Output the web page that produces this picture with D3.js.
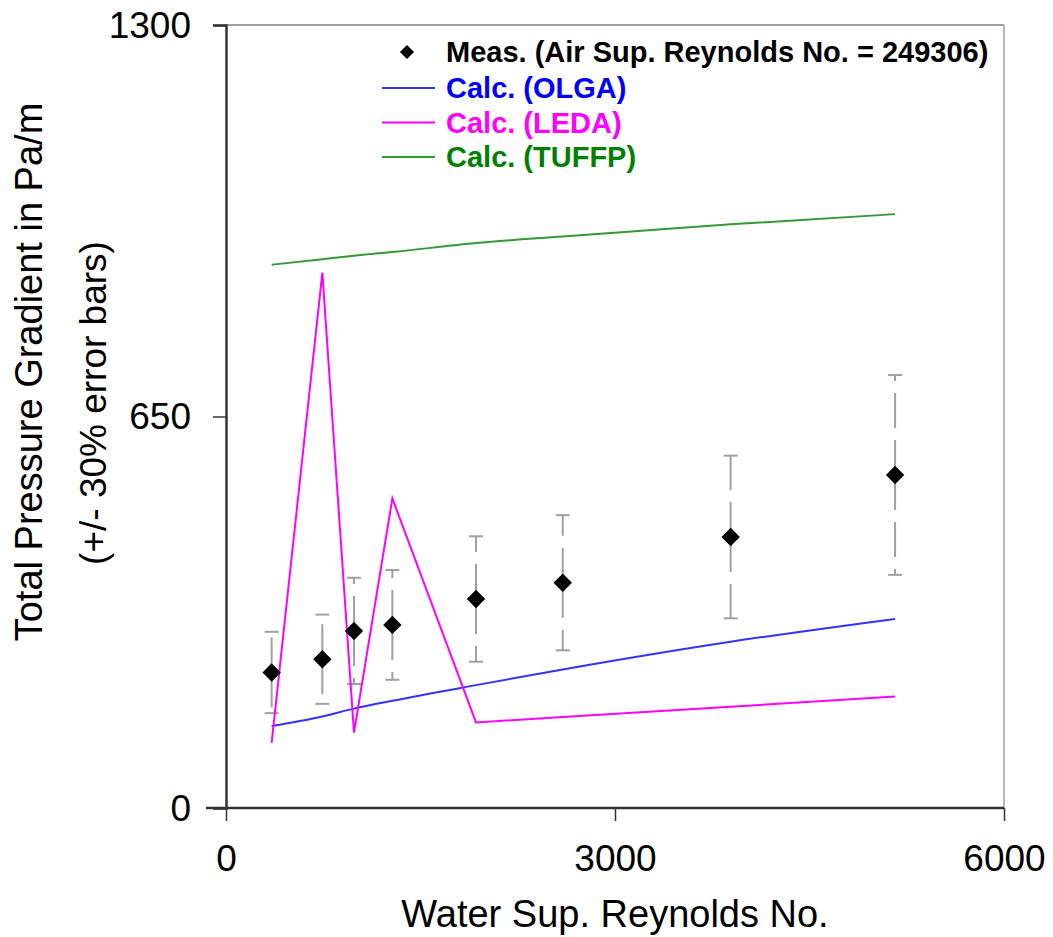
<!DOCTYPE html>
<html>
<head>
<meta charset="utf-8">
<script src="https://cdn.jsdelivr.net/npm/d3@7"></script>
<style>
  body { margin: 0; background: #fff; }
  svg { display: block; font-family: "Liberation Sans", Arial, sans-serif; }
</style>
</head>
<body>
<div id="chart"></div>
<script>
// data
var reynolds = [352, 743, 987, 1283, 1928, 2597, 3892, 5160];
var measured = [225, 247, 294, 304, 347, 374, 450, 553];
var olga  = [136, 152, 165, 178, 204, 230, 276, 314];
var leda  = [108, 889, 125, 514, 142, 151, 168, 185];
var tuffp = [902, 911, 917, 923, 938, 949, 969, 986];
var xTicks = [0, 3000, 6000];
var yTicks = [0, 650, 1300];

var seriesNames = ["Calc. (OLGA)", "Calc. (LEDA)", "Calc. (TUFFP)"];
var seriesColors = ["#3333ff", "#ff00ff", "#339933"];
var labelColors = ["#0000ff", "#ff00ff", "#008000"];

var width = 1053, height = 937;
var margin = {top: 25, right: 49, bottom: 129, left: 226};
var w = width - margin.left - margin.right,
    h = height - margin.top - margin.bottom;

var svg = d3.select("#chart")
  .append("svg")
  .attr("width", width)
  .attr("height", height)

var g = svg.append("g")
  .attr("transform", "translate(" + margin.left + "," + margin.top + ")");

var x = d3.scaleLinear().domain([0, 6000]).range([0, w]);
var y = d3.scaleLinear().domain([0, 1300]).range([h, 0]);

// gray frame top and right
g.append("line").attr("x1", 0).attr("x2", w).attr("y1", 0).attr("y2", 0)
  .style("stroke", "#a0a0a0").style("stroke-width", 2);
g.append("line").attr("x1", w).attr("x2", w).attr("y1", 0).attr("y2", h)
  .style("stroke", "#a0a0a0").style("stroke-width", 1.5);

// error bars (+/- 30%), dashed outward from the point
var bars = g.selectAll(".err").data(reynolds).enter().append("g").attr("class", "err");
bars.append("line")
  .attr("x1", function(d) { return x(d) }).attr("x2", function(d) { return x(d) })
  .attr("y1", function(d, i) { return y(measured[i]) })
  .attr("y2", function(d, i) { return y(measured[i] * 1.3) });
bars.append("line")
  .attr("x1", function(d) { return x(d) }).attr("x2", function(d) { return x(d) })
  .attr("y1", function(d, i) { return y(measured[i]) })
  .attr("y2", function(d, i) { return y(measured[i] * 0.7) });
bars.selectAll("line").style("stroke", "#a0a0a0").style("stroke-width", 2)
  .style("stroke-dasharray", "35,12");
[1.3, 0.7].forEach(function(f) {
  bars.append("line")
    .attr("x1", function(d) { return x(d) - 7 }).attr("x2", function(d) { return x(d) + 7 })
    .attr("y1", function(d, i) { return y(measured[i] * f) })
    .attr("y2", function(d, i) { return y(measured[i] * f) })
    .style("stroke", "#a0a0a0").style("stroke-width", 2);
});

// calculated lines
var line = d3.line()
  .x(function(d, i) { return x(reynolds[i]) })
  .y(function(d) { return y(d) });
var smooth = d3.line()
  .curve(d3.curveMonotoneX)
  .x(function(d, i) { return x(reynolds[i]) })
  .y(function(d) { return y(d) });
[olga, leda, tuffp].forEach(function(s, k) {
  g.append("path").datum(s)
    .attr("d", k == 1 ? line : smooth)
    .style("fill", "none")
    .style("stroke", seriesColors[k])
    .style("stroke-width", 2);
});

// measured diamonds
var diamond = d3.symbol().type(d3.symbolSquare).size(170);
g.selectAll(".pt").data(reynolds).enter().append("path")
  .attr("d", diamond)
  .attr("transform", function(d, i) {
    return "translate(" + x(d) + "," + y(measured[i]) + ") rotate(45)";
  })
  .style("fill", "black");

// axes
var xAxis = g.append("g").attr("transform", "translate(0," + h + ")")
  .call(d3.axisBottom(x).tickValues(xTicks).tickSize(13).tickPadding(24).tickFormat(d3.format("d")));
var yAxis = g.append("g")
  .call(d3.axisLeft(y).tickValues(yTicks).tickSize(13).tickPadding(22).tickFormat(d3.format("d")));
[xAxis, yAxis].forEach(function(a) {
  a.select(".domain").style("stroke", "#333").style("stroke-width", 2.5);
  a.selectAll(".tick line").style("stroke", "#333").style("stroke-width", 1.5);
  a.selectAll("text").style("font-size", "37px").style("fill", "black")
    .style("font-family", "'Liberation Sans', Arial, sans-serif");
});
xAxis.select(".domain").attr("d", "M-20,0H" + w);
yAxis.selectAll("text").attr("dy", "0.33em");

// axis titles
svg.append("text")
  .attr("x", margin.left + w / 2)
  .attr("y", 927)
  .attr("text-anchor", "middle")
  .style("font-size", "38px")
  .text("Water Sup. Reynolds No.");
svg.append("text")
  .attr("transform", "translate(42,372) rotate(-90)")
  .attr("text-anchor", "middle")
  .style("font-size", "38px")
  .text("Total Pressure Gradient in Pa/m");
svg.append("text")
  .attr("transform", "translate(106,403) rotate(-90)")
  .attr("text-anchor", "middle")
  .style("font-size", "37px")
  .text("(+/- 30% error bars)");

// legend
var legend = svg.append("g").style("font-weight", "bold").style("font-size", "29px");
legend.append("path")
  .attr("d", d3.symbol().type(d3.symbolSquare).size(100))
  .attr("transform", "translate(407,52) rotate(45)")
  .style("fill", "black");
legend.append("text").attr("x", 446).attr("y", 52).attr("dy", "0.35em")
  .text("Meas. (Air Sup. Reynolds No. = 249306)");
seriesNames.forEach(function(name, k) {
  var ly = 88 + k * 34.5;
  legend.append("line").attr("x1", 382).attr("x2", 435).attr("y1", ly).attr("y2", ly)
    .style("stroke", seriesColors[k]).style("stroke-width", 2);
  legend.append("text").attr("x", 446).attr("y", ly).attr("dy", "0.35em")
    .style("fill", labelColors[k])
    .text(name);
});
</script>
</body>
</html>
